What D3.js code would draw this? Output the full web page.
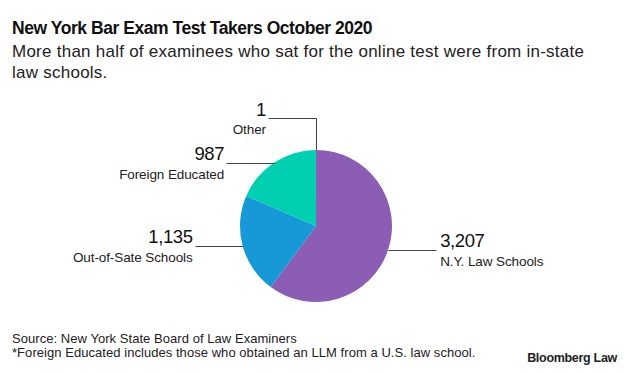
<!DOCTYPE html>
<html>
<head>
<meta charset="utf-8">
<script src="https://cdn.jsdelivr.net/npm/d3@7"></script>
<style>
  body { margin: 0; background: #fff; }
  svg { font-family: "Liberation Sans", Arial, sans-serif; }
</style>
</head>
<body>
<svg id="chart" width="633" height="373"></svg>
<script>
// chart data
const categories = ['N.Y. Law Schools', 'Out-of-Sate Schools', 'Foreign Educated', 'Other'];
const values = [3207, 1135, 987, 1];
const valueLabels = ['3,207', '1,135', '987', '1'];
const colors = ['#8b5db4', '#1799d8', '#00cfb1', '#00cfb1'];

const svg = d3.select('#chart');
const cx = 316, cy = 226, r = 76;

// title + subtitle
svg.append('text').attr('x', 12).attr('y', 34)
  .attr('font-size', 17.5).attr('font-weight', 'bold').attr('letter-spacing', -0.45)
  .attr('fill', '#111').text('New York Bar Exam Test Takers October 2020');
const sub = svg.append('text').attr('font-size', 17).attr('fill', '#222').attr('letter-spacing', 0.25);
sub.append('tspan').attr('x', 12).attr('y', 57)
  .text('More than half of examinees who sat for the online test were from in-state');
sub.append('tspan').attr('x', 12).attr('y', 78).text('law schools.');

// pie
const pie = d3.pie().sort(null).value(d => d.value);
const arcs = pie(categories.map((c, i) => ({ name: c, value: values[i], label: valueLabels[i], color: colors[i] })));
const arc = d3.arc().innerRadius(0).outerRadius(r);

const g = svg.append('g').attr('transform', `translate(${cx},${cy})`);
g.selectAll('path').data(arcs).join('path')
  .attr('d', arc).attr('fill', d => d.data.color);

// labels with leader lines
const lineLen = 48;
arcs.forEach(function(d) {
  var a = (d.startAngle + d.endAngle) / 2;
  var x0 = cx + r * Math.sin(a);
  var y0 = cy - r * Math.cos(a);
  var pts, tx, ty, anchor;
  if (d.endAngle - d.startAngle < 0.01) {
    // tiny slice: up then left
    y0 = cy - r;
    var yTop = y0 - 32;
    pts = [[x0, y0], [x0, yTop], [x0 - lineLen, yTop]];
    tx = x0 - lineLen - 2; ty = yTop; anchor = 'end';
  } else if (x0 < cx) {
    pts = [[x0, y0], [x0 - lineLen, y0]];
    tx = x0 - lineLen - 2; ty = y0; anchor = 'end';
  } else {
    pts = [[x0, y0], [x0 + lineLen, y0]];
    tx = x0 + lineLen + 4; ty = y0; anchor = 'start';
  }
  svg.append('path')
    .attr('d', d3.line()(pts.map(p => [Math.round(p[0]) + 0.5, Math.round(p[1]) + 0.5])))
    .attr('fill', 'none').attr('stroke', '#444').attr('stroke-width', 1);
  svg.append('text').attr('x', tx).attr('y', ty - 2.5)
    .attr('text-anchor', anchor).attr('font-size', 18.5).attr('letter-spacing', -0.4)
    .attr('fill', '#111').text(d.data.label);
  svg.append('text').attr('x', tx).attr('y', ty + 16)
    .attr('text-anchor', anchor).attr('font-size', 13.5).attr('letter-spacing', -0.1)
    .attr('fill', '#222').text(d.data.name);
});

// footer
const foot = svg.append('text').attr('font-size', 13).attr('fill', '#222').attr('letter-spacing', 0.05);
foot.append('tspan').attr('x', 12).attr('y', 343).text('Source: New York State Board of Law Examiners');
foot.append('tspan').attr('x', 12).attr('y', 357)
  .text('*Foreign Educated includes those who obtained an LLM from a U.S. law school.');
svg.append('text').attr('x', 617).attr('y', 362).attr('text-anchor', 'end')
  .attr('font-size', 12.5).attr('font-weight', 'bold').attr('letter-spacing', -0.3)
  .attr('fill', '#222').text('Bloomberg Law');
</script>
</body>
</html>
